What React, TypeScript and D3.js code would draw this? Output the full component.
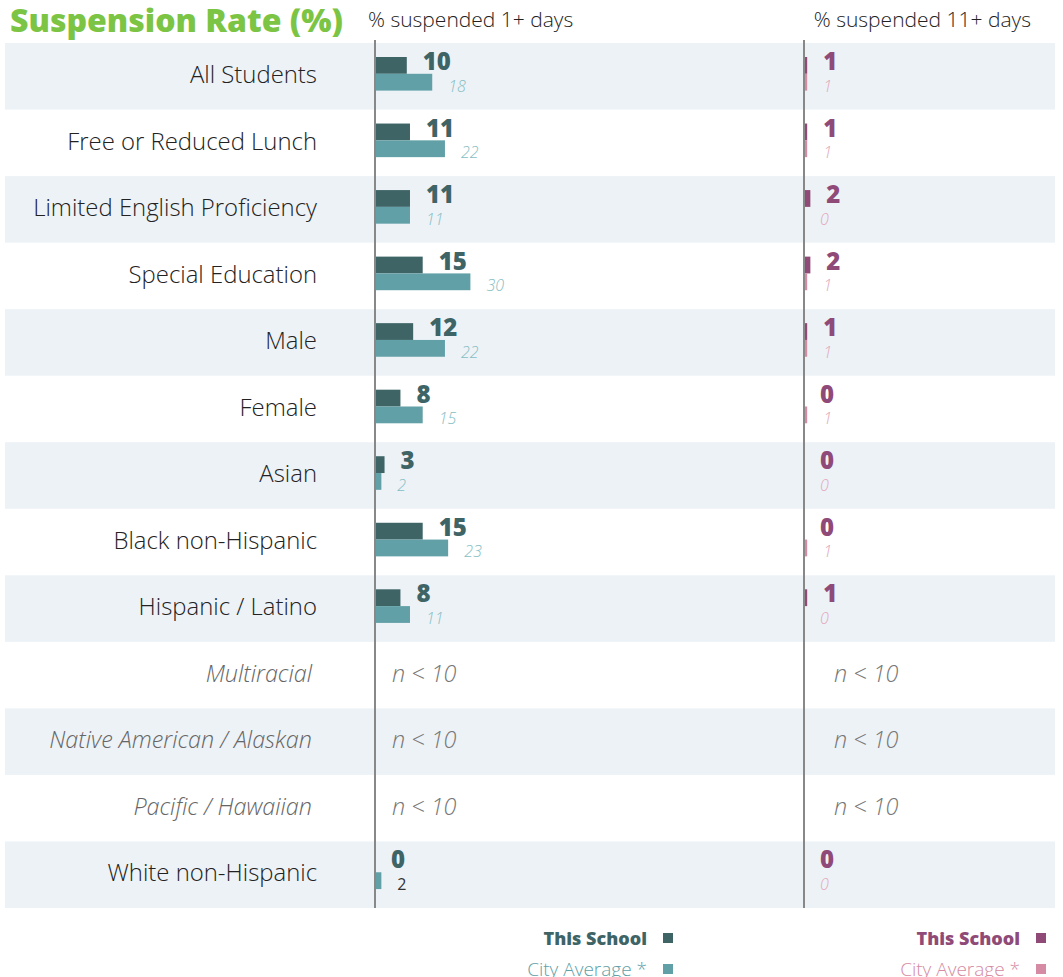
import React, { useRef, useEffect } from 'react';
import * as d3 from 'd3';

const WIDTH = 1063;
const HEIGHT = 977;
const FONT = '"Open Sans", sans-serif';

const categories = [
  'All Students',
  'Free or Reduced Lunch',
  'Limited English Proficiency',
  'Special Education',
  'Male',
  'Female',
  'Asian',
  'Black non-Hispanic',
  'Hispanic / Latino',
  'Multiracial',
  'Native American / Alaskan',
  'Pacific / Hawaiian',
  'White non-Hispanic',
];
// null = suppressed (n < 10)
const school1 = [10, 11, 11, 15, 12, 8, 3, 15, 8, null, null, null, 0];
const city1 = [18, 22, 11, 30, 22, 15, 2, 23, 11, null, null, null, 2];
const school11 = [1, 1, 2, 2, 1, 0, 0, 0, 1, null, null, null, 0];
const city11 = [1, 1, 0, 1, 1, 1, 0, 1, 0, null, null, null, 0];

const panels = [
  { x0: 375, header: '% suspended 1+ days', school: school1, city: city1, dark: '#3e6466', light: '#61a0a7', cityText: '#86bec3' },
  { x0: 804, header: '% suspended 11+ days', school: school11, city: city11, dark: '#8f4a77', light: '#d58ba3', cityText: '#e3a7b9' },
];

export default function App() {
  const svgRef = useRef<SVGSVGElement>(null);

  useEffect(() => {
    if (!svgRef.current) return;
    const svg = d3.select(svgRef.current);
    svg.selectAll('*').remove();

    const top = 43;
    const bottom = 908;
    const y = d3.scaleBand<string>().domain(categories).range([top, bottom]).padding(0);
    const rowH = y.bandwidth();
    const len = d3.scaleLinear().domain([0, 100]).range([0, 318]);
    const barH = 16.8;

    // row bands
    svg.append('g')
      .selectAll('rect')
      .data(categories.filter((_, i) => i % 2 === 0))
      .join('rect')
      .attr('x', 5)
      .attr('y', (d) => y(d)!)
      .attr('width', 1050)
      .attr('height', rowH)
      .attr('fill', '#edf2f7');

    // title
    svg.append('text')
      .attr('x', 10)
      .attr('y', 32)
      .attr('font-family', FONT)
      .attr('font-weight', 800)
      .attr('font-size', 32)
      .attr('fill', '#7cc443')
      .text('Suspension Rate (%)');

    // category labels
    categories.forEach((c, i) => {
      const suppressed = school1[i] === null;
      svg.append('text')
        .attr('x', suppressed ? 312 : 317)
        .attr('y', y(c)! + 40)
        .attr('text-anchor', 'end')
        .attr('font-family', FONT)
        .attr('font-weight', 300)
        .attr('font-style', suppressed ? 'italic' : 'normal')
        .attr('font-size', suppressed ? 23.4 : 23.9)
        .attr('fill', suppressed ? '#666' : '#222')
        .text(c);
    });

    panels.forEach((p, pi) => {
      const g = svg.append('g');
      g.append('text')
        .attr('x', pi === 0 ? 368 : 1031).attr('y', 27)
        .attr('text-anchor', pi === 0 ? 'start' : 'end')
        .attr('font-family', FONT).attr('font-weight', 300).attr('font-size', 21)
        .attr('fill', '#222').text(p.header);

      categories.forEach((c, i) => {
        const ry = y(c)!;
        const s = p.school[i];
        const cv = p.city[i];
        if (s === null || cv === null) {
          g.append('text')
            .attr('x', p.x0 + (pi === 0 ? 17 : 30))
            .attr('y', ry + 40)
            .attr('font-family', FONT).attr('font-weight', 300).attr('font-style', 'italic')
            .attr('font-size', 23.4).attr('fill', '#777')
            .text('n < 10');
          return;
        }
        g.append('rect')
          .attr('x', p.x0).attr('y', ry + 14)
          .attr('width', len(s)).attr('height', barH)
          .attr('fill', p.dark);
        g.append('rect')
          .attr('x', p.x0).attr('y', ry + 14 + barH)
          .attr('width', len(cv)).attr('height', barH)
          .attr('fill', p.light);
        g.append('text')
          .attr('x', p.x0 + len(s) + 16).attr('y', ry + 27)
          .attr('font-family', FONT).attr('font-weight', 800).attr('font-size', 24)
          .attr('fill', p.dark).text(String(s));
        const last = pi === 0 && i === categories.length - 1;
        g.append('text')
          .attr('x', p.x0 + len(cv) + 16).attr('y', ry + 48.5)
          .attr('font-family', FONT).attr('font-weight', last ? 400 : 300)
          .attr('font-style', last ? 'normal' : 'italic')
          .attr('font-size', 16)
          .attr('fill', last ? '#333' : p.cityText).text(String(cv));
      });

      g.append('line')
        .attr('x1', p.x0).attr('x2', p.x0)
        .attr('y1', 40).attr('y2', bottom)
        .attr('stroke', '#888').attr('stroke-width', 2);

      // legend
      const lx = pi === 0 ? 673 : 1046;
      g.append('rect').attr('x', lx - 10).attr('y', 933).attr('width', 10).attr('height', 10).attr('fill', p.dark);
      g.append('text')
        .attr('x', lx - 26).attr('y', 945).attr('text-anchor', 'end')
        .attr('font-family', FONT).attr('font-weight', 800).attr('font-size', 18)
        .attr('fill', p.dark).text('This School');
      g.append('rect').attr('x', lx - 10).attr('y', 964).attr('width', 10).attr('height', 10).attr('fill', p.light);
      g.append('text')
        .attr('x', lx - 26).attr('y', 976).attr('text-anchor', 'end')
        .attr('font-family', FONT).attr('font-weight', 300).attr('font-size', 19)
        .attr('fill', p.light).text('City Average *');
    });
  }, []);

  return (
    <svg
      ref={svgRef}
      width={WIDTH}
      height={HEIGHT}
      viewBox={`0 0 ${WIDTH} ${HEIGHT}`}
      style={{ position: 'absolute', left: 0, top: 0, background: '#fff' }}
    />
  );
}
